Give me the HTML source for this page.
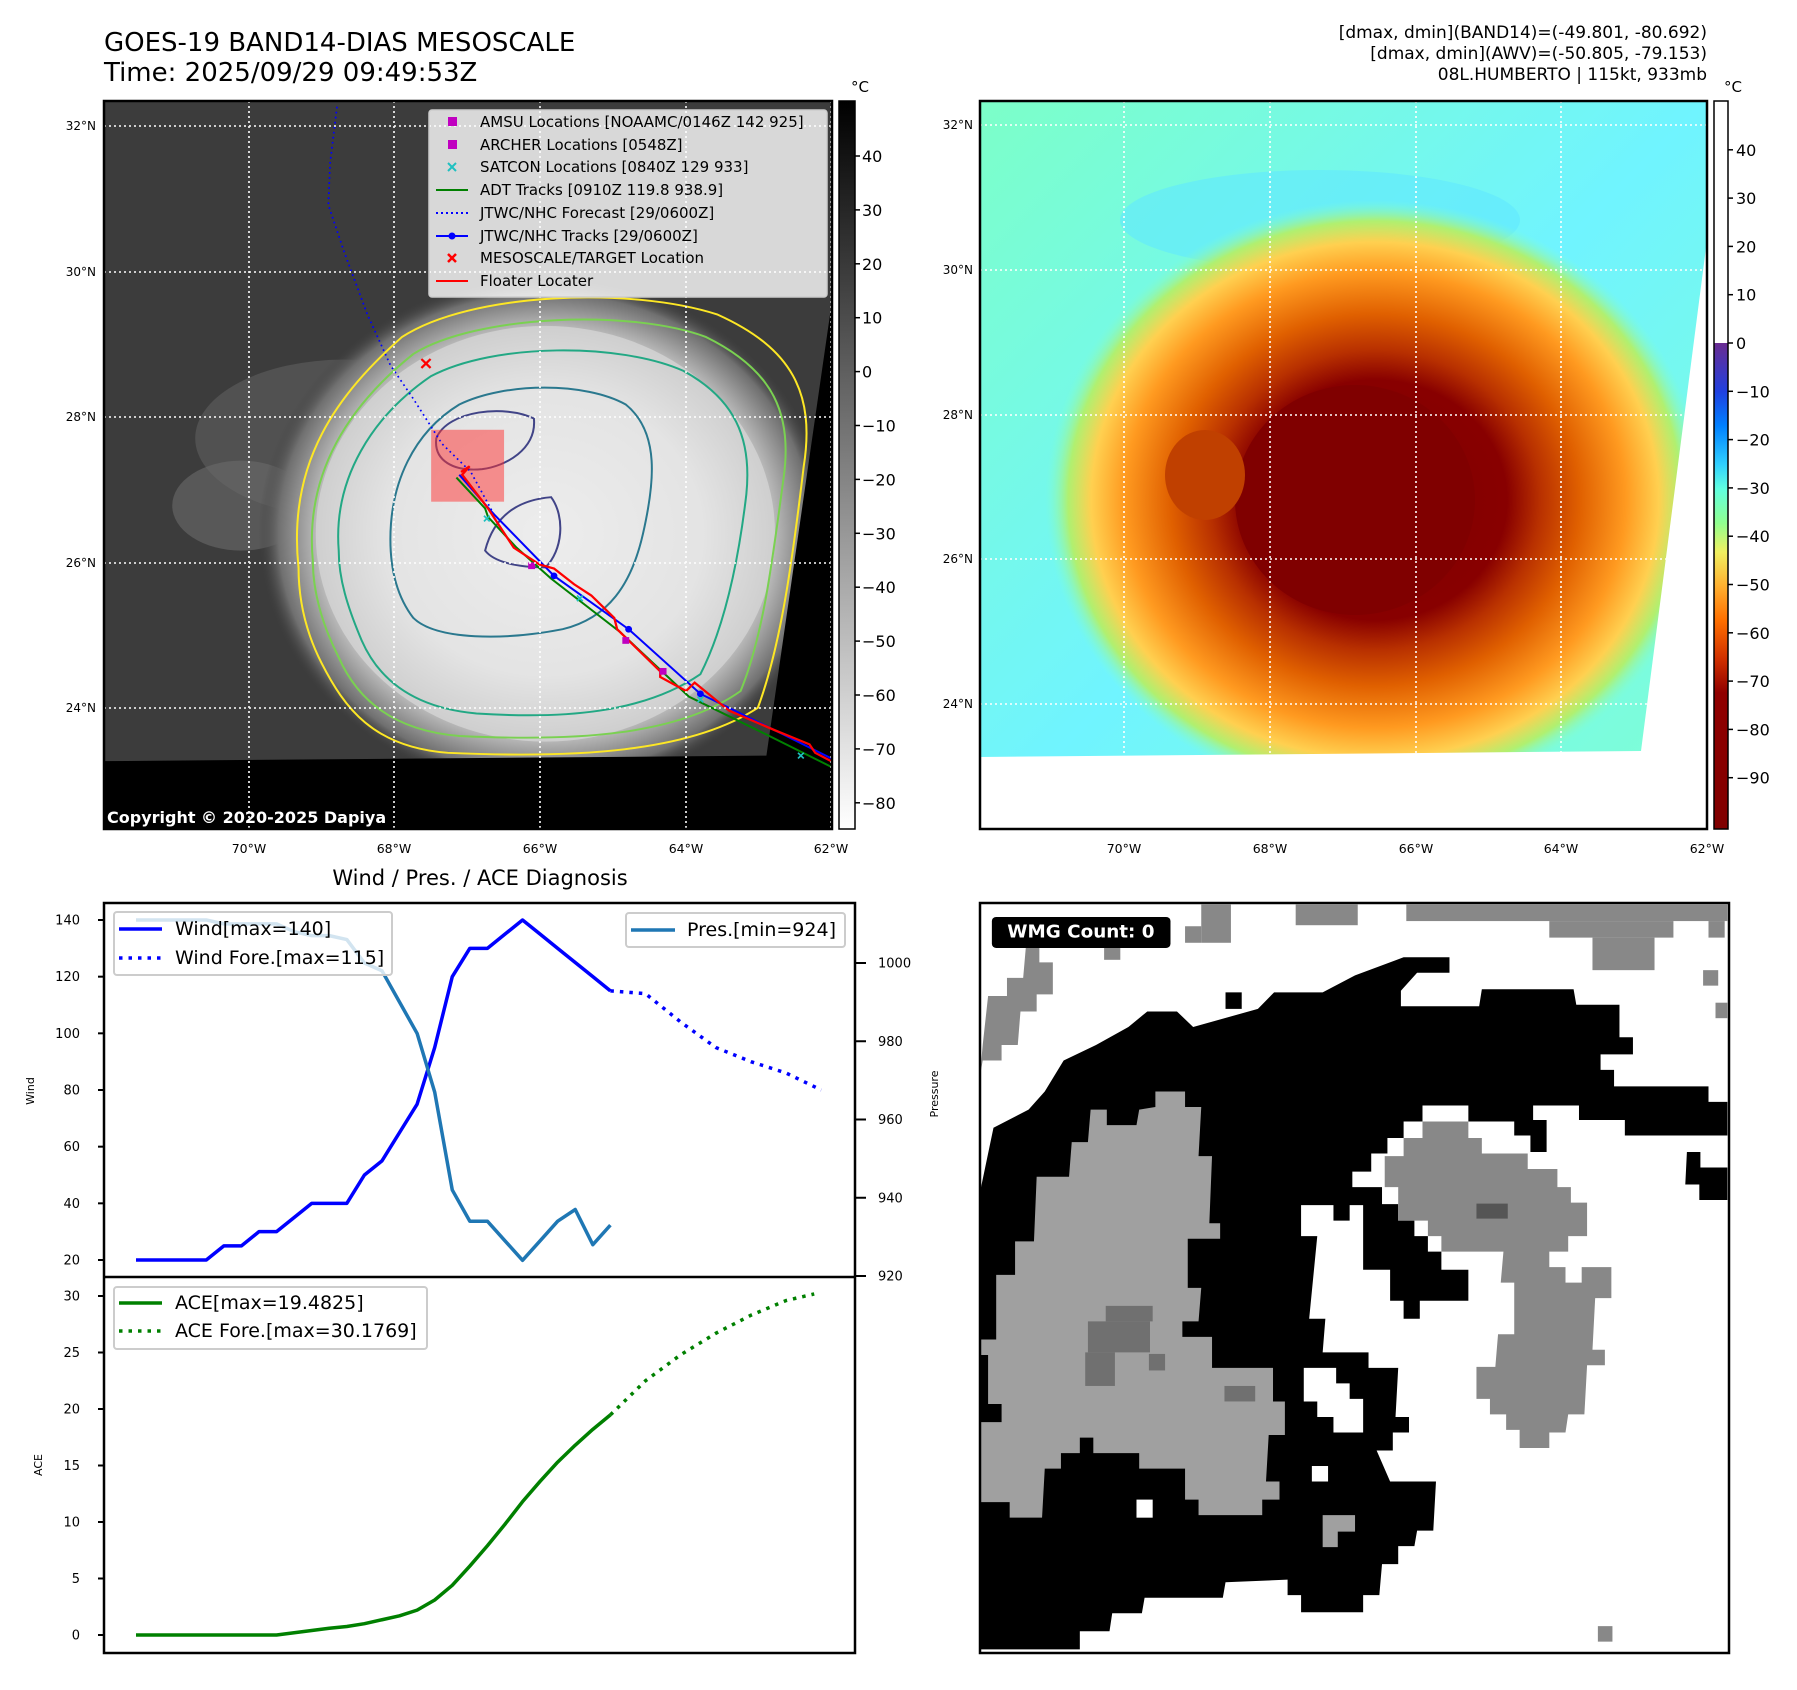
<!DOCTYPE html>
<html><head><meta charset="utf-8"><style>
html,body{margin:0;padding:0;background:#fff;}
svg{display:block;font-family:"DejaVu Sans","Liberation Sans",sans-serif;}
</style></head><body>
<svg id="root" width="1797" height="1690" viewBox="0 0 1797 1690" xmlns="http://www.w3.org/2000/svg">
<defs>
<radialGradient id="stormGrey" cx="0.5" cy="0.5" r="0.5">
<stop offset="0" stop-color="#f4f4f4"/><stop offset="0.55" stop-color="#e2e2e2"/><stop offset="0.8" stop-color="#b8b8b8"/><stop offset="0.93" stop-color="#707070"/><stop offset="1" stop-color="#3c3c3c" stop-opacity="0"/>
</radialGradient>
<linearGradient id="cbGrey" x1="0" y1="0" x2="0" y2="1"><stop offset="0" stop-color="#000"/><stop offset="1" stop-color="#fff"/></linearGradient>
<linearGradient id="cbJet" x1="0" y1="0" x2="0" y2="1">
<stop offset="0" stop-color="#6a2c91"/><stop offset="0.1" stop-color="#2040e0"/><stop offset="0.17" stop-color="#0080ff"/><stop offset="0.25" stop-color="#30d0ff"/><stop offset="0.3" stop-color="#60ffe0"/><stop offset="0.37" stop-color="#90ff90"/><stop offset="0.43" stop-color="#f0f060"/><stop offset="0.5" stop-color="#ffb030"/><stop offset="0.57" stop-color="#ff7000"/><stop offset="0.65" stop-color="#d03000"/><stop offset="0.72" stop-color="#900000"/><stop offset="1" stop-color="#800000"/>
</linearGradient>
<radialGradient id="stormJet" cx="0.5" cy="0.5" r="0.5">
<stop offset="0" stop-color="#800000"/><stop offset="0.4" stop-color="#880000"/><stop offset="0.5" stop-color="#b83000"/><stop offset="0.62" stop-color="#e06000"/><stop offset="0.76" stop-color="#ff9a20"/><stop offset="0.86" stop-color="#ffd050"/><stop offset="0.93" stop-color="#b0f070"/><stop offset="1" stop-color="#80ffd0" stop-opacity="0"/>
</radialGradient>
<linearGradient id="bgJet" x1="0" y1="0" x2="1" y2="1"><stop offset="0" stop-color="#7cffc8"/><stop offset="0.5" stop-color="#70f4ff"/><stop offset="1" stop-color="#80ffd0"/></linearGradient>
<clipPath id="clipL"><rect x="104" y="101" width="728" height="728"/></clipPath>
<clipPath id="clipR"><rect x="980" y="101" width="727" height="728"/></clipPath>
</defs>

<!-- Titles -->
<text x="104" y="51" font-size="26">GOES-19 BAND14-DIAS MESOSCALE</text>
<text x="104" y="81" font-size="26">Time: 2025/09/29 09:49:53Z</text>
<g font-size="17" text-anchor="end">
<text x="1707" y="38">[dmax, dmin](BAND14)=(-49.801, -80.692)</text>
<text x="1707" y="59">[dmax, dmin](AWV)=(-50.805, -79.153)</text>
<text x="1707" y="80">08L.HUMBERTO | 115kt, 933mb</text>
</g>

<!-- LEFT MAP -->
<g clip-path="url(#clipL)">
<rect x="104" y="101" width="728" height="728" fill="#3c3c3c"/>
<g transform="scale(0.5741,0.5618)">
<ellipse cx="600" cy="780" rx="260" ry="140" fill="#5a5a5a" opacity="0.7"/>
<ellipse cx="420" cy="900" rx="120" ry="80" fill="#6a6a6a" opacity="0.6"/>
<ellipse cx="950" cy="950" rx="500" ry="460" fill="url(#stormGrey)"/>
<ellipse cx="950" cy="950" rx="400" ry="370" fill="#e6e6e6" opacity="0.5"/>
<g fill="none" stroke-width="3.5">
<path d="M520,1010 C500,820 590,700 700,600 C820,520 1100,510 1250,560 C1380,620 1420,700 1400,830 C1380,1000 1360,1150 1320,1260 C1200,1340 1000,1350 780,1340 C650,1330 600,1260 560,1180 C530,1120 520,1060 520,1010Z" stroke="#fde725"/>
<path d="M545,1000 C530,840 610,720 720,630 C830,560 1100,550 1230,600 C1350,660 1380,740 1365,850 C1345,1000 1330,1130 1290,1230 C1180,1310 1000,1320 800,1310 C680,1300 620,1240 590,1170 C560,1110 545,1050 545,1000Z" stroke="#7ad151"/>
<path d="M590,980 C580,850 650,740 750,670 C860,610 1080,610 1190,660 C1280,710 1310,780 1300,880 C1285,1010 1260,1120 1220,1200 C1120,1270 980,1280 830,1270 C720,1260 660,1210 630,1140 C605,1080 590,1030 590,980Z" stroke="#22a884"/>
<path d="M680,960 C680,860 720,770 800,720 C880,680 1020,680 1090,720 C1150,770 1140,860 1120,950 C1100,1040 1060,1100 980,1120 C880,1140 760,1140 720,1100 C690,1060 680,1010 680,960Z" stroke="#2a788e"/>
<path d="M760,780 C780,730 880,720 930,745 C935,800 880,830 840,835 C790,840 755,820 760,780Z" stroke="#414487"/>
<path d="M845,980 C860,920 900,890 960,885 C985,920 980,980 950,1010 C900,1010 860,1000 845,980Z" stroke="#414487"/>
</g>
<polygon points="1450,530 1460,530 1460,1490 170,1490 170,1355 1335,1345" fill="#000"/>
<rect x="751" y="765" width="127" height="128" fill="#ff3030" opacity="0.5"/>
<polyline points="587,190 575,290 572,365 600,450 640,560 680,650 720,710 770,790 820,840 860,915" fill="none" stroke="#0000ff" stroke-width="3" stroke-dasharray="3,6"/>
<polyline points="795,850 845,905 850,920 900,975 960,1030 1080,1125 1200,1240 1340,1310 1448,1365" fill="none" stroke="#008000" stroke-width="3.5"/>
<polyline points="800,845 860,915 965,1025 1095,1120 1220,1235 1350,1300 1448,1350" fill="none" stroke="#0000ff" stroke-width="3.5"/>
<g fill="#0000ff"><circle cx="965" cy="1025" r="6"/><circle cx="1095" cy="1120" r="6"/><circle cx="1220" cy="1235" r="6"/></g>
<polyline points="803,840 818,830 805,845 850,905 895,975 940,1005 965,1012 1000,1040 1030,1060 1070,1100 1075,1120 1150,1195 1150,1205 1195,1230 1210,1215 1270,1265 1350,1300 1410,1325 1420,1340 1448,1355" fill="none" stroke="#ff0000" stroke-width="4"/>
<g fill="#c000c0"><rect x="920" y="1001" width="12" height="12"/><rect x="1084" y="1134" width="12" height="12"/><rect x="1149" y="1189" width="12" height="12"/></g>
<g stroke="#20c0c0" stroke-width="3"><path d="M843,918 l10,10 M853,918 l-10,10 M1005,1060 l10,10 M1015,1060 l-10,10 M1215,1240 l10,10 M1225,1240 l-10,10 M1390,1340 l10,10 M1400,1340 l-10,10"/></g>
<path d="M734,639 l16,16 M750,639 l-16,16" stroke="#ff0000" stroke-width="4"/>
</g>
<g stroke="#fff" stroke-width="1.6" stroke-dasharray="2,3">
<line x1="249" y1="101" x2="249" y2="829"/><line x1="394" y1="101" x2="394" y2="829"/><line x1="540" y1="101" x2="540" y2="829"/><line x1="686" y1="101" x2="686" y2="829"/><line x1="831" y1="101" x2="831" y2="829"/>
<line x1="104" y1="126" x2="832" y2="126"/><line x1="104" y1="272" x2="832" y2="272"/><line x1="104" y1="417" x2="832" y2="417"/><line x1="104" y1="563" x2="832" y2="563"/><line x1="104" y1="708" x2="832" y2="708"/>
</g>
<text x="107" y="823" font-size="16" font-weight="bold" fill="#fff">Copyright © 2020-2025 Dapiya</text>
</g>
<rect x="104" y="101" width="728" height="728" fill="none" stroke="#000" stroke-width="2.5"/>
<!-- legend -->
<g>
<rect x="429" y="110" width="398" height="187" rx="3" fill="#fff" fill-opacity="0.8" stroke="#ccc" stroke-width="1.5"/>
<g font-size="15">
<rect x="448" y="117" width="9" height="9" fill="#c000c0"/><text x="480" y="127">AMSU Locations [NOAAMC/0146Z 142 925]</text>
<rect x="448" y="140" width="9" height="9" fill="#c000c0"/><text x="480" y="150">ARCHER Locations [0548Z]</text>
<path d="M448,163 l8,8 M456,163 l-8,8" stroke="#20c0c0" stroke-width="2"/><text x="480" y="172">SATCON Locations [0840Z 129 933]</text>
<line x1="436" y1="190" x2="468" y2="190" stroke="#008000" stroke-width="2"/><text x="480" y="195">ADT Tracks [0910Z 119.8 938.9]</text>
<line x1="436" y1="213" x2="468" y2="213" stroke="#0000ff" stroke-width="2" stroke-dasharray="2,3"/><text x="480" y="218">JTWC/NHC Forecast [29/0600Z]</text>
<line x1="436" y1="236" x2="468" y2="236" stroke="#0000ff" stroke-width="2"/><circle cx="452" cy="236" r="3.5" fill="#0000ff"/><text x="480" y="241">JTWC/NHC Tracks [29/0600Z]</text>
<path d="M448,254 l8,8 M456,254 l-8,8" stroke="#ff0000" stroke-width="2.5"/><text x="480" y="263">MESOSCALE/TARGET Location</text>
<line x1="436" y1="281" x2="468" y2="281" stroke="#ff0000" stroke-width="2"/><text x="480" y="286">Floater Locater</text>
</g></g>
<g font-size="12" text-anchor="end">
<text x="96" y="130">32°N</text><text x="96" y="276">30°N</text><text x="96" y="421">28°N</text><text x="96" y="567">26°N</text><text x="96" y="712">24°N</text>
</g>
<g font-size="12.5" text-anchor="middle">
<text x="249" y="853">70°W</text><text x="394" y="853">68°W</text><text x="540" y="853">66°W</text><text x="686" y="853">64°W</text><text x="831" y="853">62°W</text>
</g>
<rect x="839" y="101" width="16" height="728" fill="url(#cbGrey)" stroke="#000" stroke-width="1.5"/>
<text x="851" y="92" font-size="15">°C</text>
<g id="cbL" font-size="16"></g>

<!-- RIGHT MAP -->
<g clip-path="url(#clipR)">
<rect x="980" y="101" width="727" height="728" fill="url(#bgJet)"/>
<ellipse cx="1320" cy="220" rx="200" ry="50" fill="#60e8ff" opacity="0.6"/>
<ellipse cx="1375" cy="500" rx="330" ry="300" fill="url(#stormJet)"/>
<ellipse cx="1355" cy="500" rx="120" ry="115" fill="#800000"/>
<ellipse cx="1205" cy="475" rx="40" ry="45" fill="#c04000"/>
<polygon points="1707,240 1730,240 1730,840 975,840 975,757 1641,751" fill="#fff"/>
<g stroke="#fff" stroke-width="1.6" stroke-dasharray="2,3">
<line x1="1124" y1="101" x2="1124" y2="829"/><line x1="1270" y1="101" x2="1270" y2="829"/><line x1="1416" y1="101" x2="1416" y2="829"/><line x1="1561" y1="101" x2="1561" y2="829"/>
<line x1="980" y1="125" x2="1707" y2="125"/><line x1="980" y1="270" x2="1707" y2="270"/><line x1="980" y1="415" x2="1707" y2="415"/><line x1="980" y1="559" x2="1707" y2="559"/><line x1="980" y1="704" x2="1707" y2="704"/>
</g>
</g>
<rect x="980" y="101" width="727" height="728" fill="none" stroke="#000" stroke-width="2.5"/>
<g font-size="12" text-anchor="end">
<text x="973" y="129">32°N</text><text x="973" y="274">30°N</text><text x="973" y="419">28°N</text><text x="973" y="563">26°N</text><text x="973" y="708">24°N</text>
</g>
<g font-size="12.5" text-anchor="middle">
<text x="1124" y="853">70°W</text><text x="1270" y="853">68°W</text><text x="1416" y="853">66°W</text><text x="1561" y="853">64°W</text><text x="1707" y="853">62°W</text>
</g>
<rect x="1714" y="101" width="14" height="242" fill="#fff"/>
<rect x="1714" y="343" width="14" height="486" fill="url(#cbJet)"/>
<rect x="1714" y="101" width="14" height="728" fill="none" stroke="#000" stroke-width="1.5"/>
<text x="1724" y="92" font-size="15">°C</text>
<g id="cbR" font-size="16"></g>

<!-- BOTTOM LEFT CHART -->
<text x="480" y="885" font-size="21" text-anchor="middle">Wind / Pres. / ACE Diagnosis</text>
<g id="chart"></g>
<rect x="104" y="903" width="751" height="750" fill="none" stroke="#000" stroke-width="2.5"/>
<line x1="104" y1="1277" x2="855" y2="1277" stroke="#000" stroke-width="2.5"/>
<text transform="translate(34,1091) rotate(-90)" font-size="11" text-anchor="middle">Wind</text>
<text transform="translate(42,1465) rotate(-90)" font-size="11" text-anchor="middle">ACE</text>
<text transform="translate(938,1094) rotate(-90)" font-size="11" text-anchor="middle">Pressure</text>
<g>
<rect x="114" y="912" width="278" height="63" rx="3" fill="#fff" fill-opacity="0.8" stroke="#ccc" stroke-width="2"/>
<line x1="119" y1="929" x2="162" y2="929" stroke="#0000ff" stroke-width="3.5"/>
<text x="175" y="935" font-size="19">Wind[max=140]</text>
<line x1="119" y1="958" x2="162" y2="958" stroke="#0000ff" stroke-width="3.5" stroke-dasharray="3.5,6"/>
<text x="175" y="964" font-size="19">Wind Fore.[max=115]</text>
</g>
<g>
<rect x="626" y="913" width="219" height="34" rx="3" fill="#fff" fill-opacity="0.8" stroke="#ccc" stroke-width="2"/>
<line x1="631" y1="930" x2="675" y2="930" stroke="#1f77b4" stroke-width="3.5"/>
<text x="687" y="936" font-size="19">Pres.[min=924]</text>
</g>
<g>
<rect x="114" y="1287" width="313" height="62" rx="3" fill="#fff" fill-opacity="0.8" stroke="#ccc" stroke-width="2"/>
<line x1="119" y1="1303" x2="162" y2="1303" stroke="#008000" stroke-width="3.5"/>
<text x="175" y="1309" font-size="19">ACE[max=19.4825]</text>
<line x1="119" y1="1331" x2="162" y2="1331" stroke="#008000" stroke-width="3.5" stroke-dasharray="3.5,6"/>
<text x="175" y="1337" font-size="19">ACE Fore.[max=30.1769]</text>
</g>

<!-- BOTTOM RIGHT WMG -->
<svg x="980" y="903" width="749" height="750" viewBox="55 45 1388 1452" preserveAspectRatio="none">
<rect x="55" y="45" width="1388" height="1452" fill="#fff"/>
<g fill="#888">
<rect x="465" y="48" width="55" height="74"/><rect x="435" y="90" width="30" height="32"/><rect x="640" y="48" width="115" height="40"/><rect x="845" y="48" width="595" height="32"/><rect x="1110" y="80" width="230" height="32"/><rect x="1190" y="112" width="115" height="63"/><rect x="1395" y="175" width="28" height="30"/><rect x="1418" y="238" width="22" height="30"/><rect x="1405" y="80" width="30" height="32"/><rect x="285" y="125" width="30" height="30"/><rect x="1200" y="1445" width="27" height="30"/>
<polygon points="140,130 165,130 165,160 190,160 190,222 160,222 160,255 130,255 125,320 95,320 95,350 60,350 55,380 60,320 70,225 105,225 105,190 135,190"/>
</g>
<polygon fill="#000" points="55,605 80,480 145,445 175,410 210,350 270,320 330,285 365,255 420,255 450,285 570,250 600,218 690,218 750,185 840,150 925,150 925,180 865,180 835,215 835,245 980,245 985,212 1155,212 1160,242 1240,242 1240,305 1265,305 1265,338 1205,338 1205,368 1230,368 1230,400 1405,400 1405,430 1440,430 1440,495 1250,495 1250,465 1165,465 1165,437 1080,437 1080,465 1105,465 1105,527 1075,527 1075,495 1045,495 1045,468 960,468 960,437 875,437 875,468 840,468 840,500 810,500 810,530 780,530 780,565 745,565 745,595 800,595 800,628 830,628 830,660 860,660 860,690 885,690 885,720 910,720 910,755 960,755 960,815 870,815 870,850 840,850 840,815 815,815 815,755 765,755 765,630 740,630 740,660 710,660 710,630 650,630 650,690 680,690 665,850 695,850 690,915 775,915 775,945 830,945 825,1040 850,1040 850,1070 820,1070 820,1105 790,1105 815,1165 900,1165 895,1260 865,1260 860,1290 830,1290 830,1325 800,1325 795,1385 765,1385 765,1418 650,1418 650,1385 625,1385 625,1355 510,1360 505,1390 360,1390 355,1420 300,1420 295,1455 240,1455 240,1490 55,1490"/>
<polygon fill="#000" points="1365,527 1390,527 1390,557 1440,557 1440,620 1388,620 1388,590 1362,590"/>
<rect x="510" y="218" width="30" height="32" fill="#000"/>
<g fill="#fff">
<polygon points="655,945 715,945 715,975 740,975 740,1005 765,1005 765,1070 710,1070 710,1040 680,1040 680,1010 655,1010"/>
<rect x="345" y="1200" width="30" height="35"/><rect x="670" y="1135" width="30" height="30"/>
</g>
<polygon fill="#a0a0a0" points="260,445 290,445 290,475 345,475 350,445 380,440 380,410 435,410 435,440 465,440 460,535 485,535 480,665 500,665 500,695 440,695 440,790 465,790 460,855 430,855 430,885 485,885 485,945 598,945 598,1010 620,1010 620,1075 590,1075 585,1165 610,1165 610,1200 578,1200 578,1230 460,1230 460,1200 435,1200 435,1140 350,1140 350,1110 265,1110 265,1080 240,1080 240,1110 205,1110 205,1140 175,1140 170,1235 110,1235 110,1205 55,1205 55,1050 95,1050 95,1015 70,1015 70,920 55,920 55,890 85,890 85,765 120,765 120,700 155,700 160,575 220,575 225,508 255,508"/>
<g fill="#707070"><rect x="288" y="825" width="87" height="30"/><rect x="255" y="855" width="115" height="60"/><rect x="250" y="915" width="55" height="65"/><rect x="368" y="918" width="30" height="32"/><rect x="508" y="980" width="57" height="30"/></g>
<polygon fill="#a0a0a0" points="690,1230 750,1230 750,1262 718,1262 718,1292 690,1292"/>
<polygon fill="#888" points="875,468 960,468 960,500 985,500 985,530 1070,530 1070,560 1125,560 1125,595 1150,595 1150,625 1180,625 1180,690 1145,690 1145,720 1110,720 1110,750 1140,750 1140,780 1170,780 1170,750 1225,750 1225,810 1195,810 1190,910 1213,910 1213,940 1180,940 1175,1035 1145,1035 1140,1070 1110,1070 1110,1100 1055,1100 1055,1065 1030,1065 1030,1035 1000,1035 1000,1005 975,1005 975,943 1010,943 1015,880 1045,880 1045,780 1020,780 1025,720 910,720 910,690 885,690 885,660 830,660 830,595 805,595 805,535 840,535 840,500 875,500"/>
<rect x="975" y="627" width="58" height="29" fill="#555"/>
<rect x="77" y="72" width="331" height="60" rx="8" fill="#000"/>
<text x="242" y="112" font-size="34" font-weight="bold" fill="#fff" text-anchor="middle">WMG Count: 0</text>
</svg>
<rect x="980" y="903" width="749" height="750" fill="none" stroke="#000" stroke-width="2.5"/>
</svg>
<script>
// Chart data
const windObs = [20,20,20,20,20,25,25,30,30,35,40,40,40,50,55,65,75,95,120,130,130,135,140,135,130,125,120,115];
const windForeIdx = [27,29,31,33,35,37,39];
const windFore = [115,114,104,95,90,86,80];
const presObs = [1011,1011,1011,1011,1011,1010,1010,1010,1010,1008,1007,1007,1006,1000,998,990,982,967,942,934,934,929,924,929,934,937,928,933];
const aceObs = [0,0,0,0,0,0,0,0,0,0.2,0.4,0.6,0.75,1.0,1.35,1.7,2.2,3.1,4.4,6.1,7.9,9.8,11.8,13.6,15.3,16.8,18.2,19.48];
const aceForeIdx = [27,29,31,33,35,37,38.6];
const aceFore = [19.48,22.5,24.8,26.7,28.3,29.6,30.18];
const windTicks = [20,40,60,80,100,120,140];
const presTicks = [920,940,960,980,1000];
const aceTicks = [0,5,10,15,20,25,30];
const cbLeftTicks = [40,30,20,10,0,-10,-20,-30,-40,-50,-60,-70,-80];
const cbRightTicks = [40,30,20,10,0,-10,-20,-30,-40,-50,-60,-70,-80,-90];

const NS = 'http://www.w3.org/2000/svg';
const xS = i => 136 + 17.57 * i;
const yWind = w => 1260 - (w - 20) * (340 / 120);
const yPres = p => 1276 - (p - 920) * (313 / 80);
const yAce = a => 1635 - a * (339 / 30);
const yCbL = v => 156 + (40 - v) * 5.39;
const yCbR = v => 343 - v * 4.83;

const chart = document.getElementById('chart');
function mk(tag, attrs, parent) {
  const e = document.createElementNS(NS, tag);
  for (const k in attrs) e.setAttribute(k, attrs[k]);
  parent.appendChild(e);
  return e;
}
function pts(xs, ys, fy) { return xs.map((x, i) => xS(x) + ',' + fy(ys[i])).join(' '); }
const obsIdx = windObs.map((_, i) => i);

const wl = mk('polyline', {points: pts(obsIdx, windObs, yWind), fill: 'none', stroke: '#0000ff', 'stroke-width': 3.5, 'stroke-linejoin': 'round'}, chart);


const wf = mk('polyline', {points: pts(windForeIdx, windFore, yWind), fill: 'none', stroke: '#0000ff', 'stroke-width': 3.5, 'stroke-dasharray': '3.5,6'}, chart);


const pl = mk('polyline', {points: pts(presObs.map((_, i) => i), presObs, yPres), fill: 'none', stroke: '#1f77b4', 'stroke-width': 3.5, 'stroke-linejoin': 'round'}, chart);


const al = mk('polyline', {points: pts(aceObs.map((_, i) => i), aceObs, yAce), fill: 'none', stroke: '#008000', 'stroke-width': 3.5, 'stroke-linejoin': 'round'}, chart);


const af = mk('polyline', {points: pts(aceForeIdx, aceFore, yAce), fill: 'none', stroke: '#008000', 'stroke-width': 3.5, 'stroke-dasharray': '3.5,6'}, chart);



windTicks.forEach(v => {
  const y = yWind(v);
  mk('line', {x1: 98, x2: 104, y1: y, y2: y, stroke: '#000', 'stroke-width': 2}, chart);
  const t = mk('text', {x: 80, y: y + 4.5, 'font-size': 13, 'text-anchor': 'end'}, chart);
  t.textContent = v;
  
  
});
aceTicks.forEach(v => {
  const y = yAce(v);
  mk('line', {x1: 98, x2: 104, y1: y, y2: y, stroke: '#000', 'stroke-width': 2}, chart);
  const t = mk('text', {x: 80, y: y + 4.5, 'font-size': 13, 'text-anchor': 'end'}, chart);
  t.textContent = v;
  
  
});
presTicks.forEach(v => {
  const y = yPres(v);
  mk('line', {x1: 855, x2: 866, y1: y, y2: y, stroke: '#000', 'stroke-width': 2}, chart);
  const t = mk('text', {x: 878, y: y + 4.5, 'font-size': 13}, chart);
  t.textContent = v;
  
  
});
const cbL = document.getElementById('cbL');
cbLeftTicks.forEach(v => {
  const y = yCbL(v);
  mk('line', {x1: 855, x2: 860, y1: y, y2: y, stroke: '#000', 'stroke-width': 1.5}, cbL);
  const t = mk('text', {x: 862, y: y + 6}, cbL);
  t.textContent = v < 0 ? '\u2212' + (-v) : v;
  
  
});
const cbR = document.getElementById('cbR');
cbRightTicks.forEach(v => {
  const y = yCbR(v);
  mk('line', {x1: 1728, x2: 1733, y1: y, y2: y, stroke: '#000', 'stroke-width': 1.5}, cbR);
  const t = mk('text', {x: 1736, y: y + 6}, cbR);
  t.textContent = v < 0 ? '\u2212' + (-v) : v;
  
  
});
</script>
</body></html>
